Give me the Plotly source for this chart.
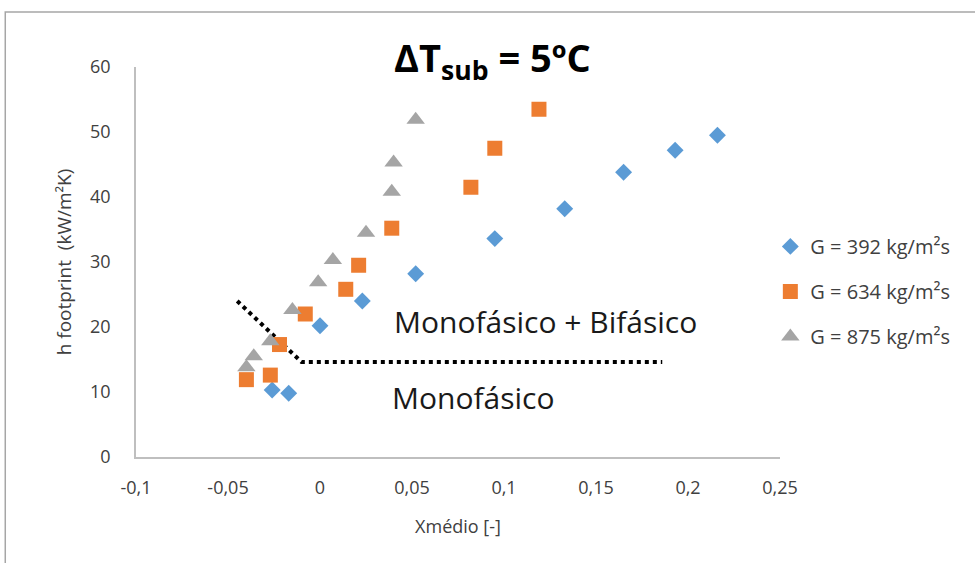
import plotly.graph_objects as go

# Heat transfer coefficient vs. mean vapour quality, three mass fluxes
x_392 = [-0.026, -0.017, 0.000, 0.023, 0.052, 0.095, 0.133, 0.165, 0.193, 0.216]
h_392 = [10.3, 9.8, 20.2, 24.0, 28.2, 33.6, 38.2, 43.8, 47.2, 49.5]

x_634 = [-0.040, -0.027, -0.022, -0.008, 0.014, 0.021, 0.039, 0.082, 0.095, 0.119]
h_634 = [11.9, 12.6, 17.3, 22.0, 25.8, 29.5, 35.2, 41.5, 47.5, 53.5]

x_875 = [-0.040, -0.036, -0.027, -0.015, -0.001, 0.007, 0.025, 0.039, 0.040, 0.052]
h_875 = [13.8, 15.5, 17.8, 22.6, 26.9, 30.3, 34.5, 40.8, 45.3, 51.9]

series_names = ["G = 392 kg/m²s", "G = 634 kg/m²s", "G = 875 kg/m²s"]

# Boundary between single-phase and two-phase regions
boundary_x = [-0.045, -0.010, 0.186]
boundary_y = [24.0, 14.6, 14.6]

x_ticks = [-0.1, -0.05, 0, 0.05, 0.1, 0.15, 0.2, 0.25]
x_tick_labels = ["-0,1", "-0,05", "0", "0,05", "0,1", "0,15", "0,2", "0,25"]
y_ticks = [0, 10, 20, 30, 40, 50, 60]

FONT = "Open Sans, sans-serif"

fig = go.Figure()

fig.add_trace(go.Scatter(
    x=boundary_x, y=boundary_y, mode="lines",
    line=dict(color="black", width=4, dash="dot"),
    showlegend=False, hoverinfo="skip",
))

for xs, ys, name, sym, col, size, grp in [
    (x_392, h_392, series_names[0], "diamond", "#5B9BD5", 13, "a"),
    (x_634, h_634, series_names[1], "square", "#ED7D31", 15, "b"),
    (x_875, h_875, series_names[2], "triangle-up", "#A5A5A5", 16, "c"),
]:
    fig.add_trace(go.Scatter(
        x=xs, y=ys, mode="markers", name=name, legendgroup=grp,
        marker=dict(symbol=sym, color=col, size=size, line=dict(width=0)),
    ))

fig.update_layout(
    width=975, height=563,
    margin=dict(l=136, r=195, t=67, b=106),
    plot_bgcolor="white", paper_bgcolor="white",
    font=dict(family=FONT, color="#404040"),
    showlegend=True,
    legend=dict(
        x=0.985, y=0.59, xanchor="left", yanchor="top",
        font=dict(size=20, color="#404040"),
        traceorder="grouped", tracegroupgap=16,
        itemwidth=30,
    ),
    xaxis=dict(
        range=[-0.1, 0.25], tickvals=x_ticks, ticktext=x_tick_labels,
        showgrid=False, zeroline=False, showline=True,
        linecolor="#BFBFBF", linewidth=1.5, ticks="",
        tickfont=dict(size=18, color="#404040"), ticklabelstandoff=14,
        title=dict(text="Xmédio [-]", font=dict(size=18, color="#404040"), standoff=22),
    ),
    yaxis=dict(
        range=[0, 60], tickvals=y_ticks,
        showgrid=False, zeroline=False, showline=True,
        linecolor="#BFBFBF", linewidth=1.5, ticks="",
        tickfont=dict(size=18, color="#404040"), ticklabelstandoff=20,
        title=dict(text="h footprint  (kW/m²K)", font=dict(size=19, color="#404040"), standoff=13),
    ),
    annotations=[
        dict(text="<b>ΔT<sub>sub</sub> = 5ºC</b>", xref="paper", yref="paper",
             x=0.554, y=1.018, yanchor="middle", showarrow=False,
             font=dict(size=38, color="black")),
        dict(text="Monofásico + Bifásico", xref="x", yref="y",
             x=0.1223, y=20.8, showarrow=False, font=dict(size=30, color="#1a1a1a")),
        dict(text="Monofásico", xref="x", yref="y",
             x=0.0832, y=9.1, showarrow=False, font=dict(size=30, color="#1a1a1a")),
    ],
    shapes=[
        dict(type="rect", xref="paper", yref="paper",
             x0=-0.203, x1=1.32, y0=-0.30, y1=1.141,
             line=dict(color="#A6A6A6", width=1.5), fillcolor="rgba(0,0,0,0)"),
    ],
)

fig.write_html("out.html")
